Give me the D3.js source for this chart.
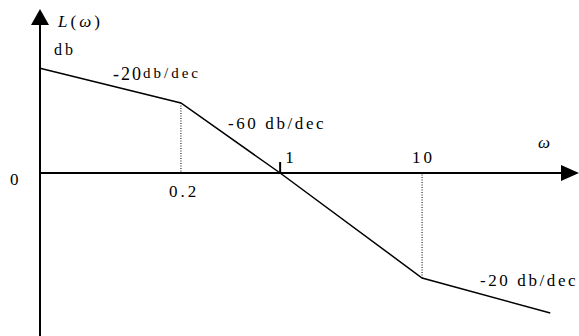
<!DOCTYPE html>
<html>
<head>
<meta charset="utf-8">
<script src="https://cdn.jsdelivr.net/npm/d3@7"></script>
<style>
  body { margin: 0; background: #fff; }
  text { font-family: "Liberation Serif", "DejaVu Serif", "Times New Roman", serif; }
</style>
</head>
<body>
<div id="chart"></div>
<script>
// asymptotic magnitude plot, corner points
const omega = [0.02, 0.2, 1, 10, 80];
const gainDb = [60, 40, 0, -60, -80];
const tickValues = [0.2, 1, 10];
const tickLabels = ['0.2', '1', '10'];
const slopeLabels = ['-20', '-60 db/dec', '-20 db/dec'];

const width = 579, height = 336;
const serif = '"Liberation Serif", "DejaVu Serif", serif';

const svg = d3.select('#chart').append('svg')
    .attr('width', width)
    .attr('height', height);

// one decade ~ 142px, 1 dB ~ 1.75px
const x = d3.scaleLog().domain([0.02, 100]).range([39, 564]);
const y = d3.scaleLinear().domain([-60, 60]).range([278, 68]);

const x0 = x(0.02) + 1, y0 = y(0);

// axes
svg.append('line')
    .attr('x1', x0).attr('y1', height)
    .attr('x2', x0).attr('y2', 22)
    .attr('stroke', '#000').attr('stroke-width', 2);
svg.append('path')
    .attr('d', `M${x0},9 L${x0 - 9},25 L${x0 + 9},25 Z`)
    .attr('fill', '#000');

svg.append('line')
    .attr('x1', x0).attr('y1', y0)
    .attr('x2', 564).attr('y2', y0)
    .attr('stroke', '#000').attr('stroke-width', 2);
svg.append('path')
    .attr('d', `M579,${y0} L561,${y0 - 8} L561,${y0 + 8} Z`)
    .attr('fill', '#000');

// tick at 1
svg.append('line')
    .attr('x1', x(1)).attr('y1', y0)
    .attr('x2', x(1)).attr('y2', y0 - 11)
    .attr('stroke', '#000').attr('stroke-width', 2);

// dotted drop lines at the corners 0.2 and 10
const pts = omega.map((w, i) => ({ w: w, L: gainDb[i] }));
svg.selectAll('.drop')
    .data(pts.filter(d => d.w === 0.2 || d.w === 10))
    .enter().append('line')
    .attr('class', 'drop')
    .attr('x1', d => x(d.w)).attr('y1', d => y(d.L))
    .attr('x2', d => x(d.w)).attr('y2', y0)
    .attr('stroke', '#000').attr('stroke-width', 1)
    .attr('stroke-dasharray', '1,1.5');

// the asymptote
svg.append('path')
    .datum(pts)
    .attr('fill', 'none')
    .attr('stroke', '#000')
    .attr('stroke-width', 1.5)
    .attr('d', d3.line().x(d => x(d.w)).y(d => y(d.L)));

// tick labels
const tickPos = [
    { dx: -12, dy: 24 },  // 0.2 below the axis
    { dx: 5, dy: -10 },   // 1 above
    { dx: -10, dy: -10 }  // 10 above
];
svg.selectAll('.tick')
    .data(tickValues)
    .enter().append('text')
    .attr('class', 'tick')
    .attr('x', (d, i) => x(d) + tickPos[i].dx)
    .attr('y', (d, i) => y0 + tickPos[i].dy)
    .attr('font-size', 17)
    .attr('letter-spacing', 3)
    .text((d, i) => tickLabels[i]);

svg.append('text')
    .attr('x', 10).attr('y', y0 + 12)
    .attr('font-size', 17)
    .text('0');

// axis titles
const lt = svg.append('text')
    .attr('x', 58).attr('y', 27)
    .attr('font-size', 17)
    .attr('letter-spacing', 3);
lt.append('tspan').attr('font-style', 'italic').text('L');
lt.append('tspan').text('(');
lt.append('tspan').attr('font-style', 'italic').text('ω');
lt.append('tspan').text(')');

svg.append('text')
    .attr('x', 54).attr('y', 55)
    .attr('font-size', 16)
    .attr('letter-spacing', 3)
    .text('db');

svg.append('text')
    .attr('x', 538).attr('y', 148)
    .attr('font-size', 17)
    .attr('font-style', 'italic')
    .text('ω');

// slope labels
const s1 = svg.append('text')
    .attr('x', 113).attr('y', 80)
    .attr('letter-spacing', 3);
s1.append('tspan').attr('font-size', 18).attr('letter-spacing', 2).text(slopeLabels[0]);
s1.append('tspan').attr('font-size', 15).attr('dy', -2).text('db/dec');

svg.append('text')
    .attr('x', 228).attr('y', 129)
    .attr('font-size', 17)
    .attr('letter-spacing', 2.6)
    .text(slopeLabels[1]);

svg.append('text')
    .attr('x', 480).attr('y', 286)
    .attr('font-size', 17)
    .attr('letter-spacing', 2.6)
    .text(slopeLabels[2]);

svg.selectAll('text').style('font-family', serif);
</script>
</body>
</html>
